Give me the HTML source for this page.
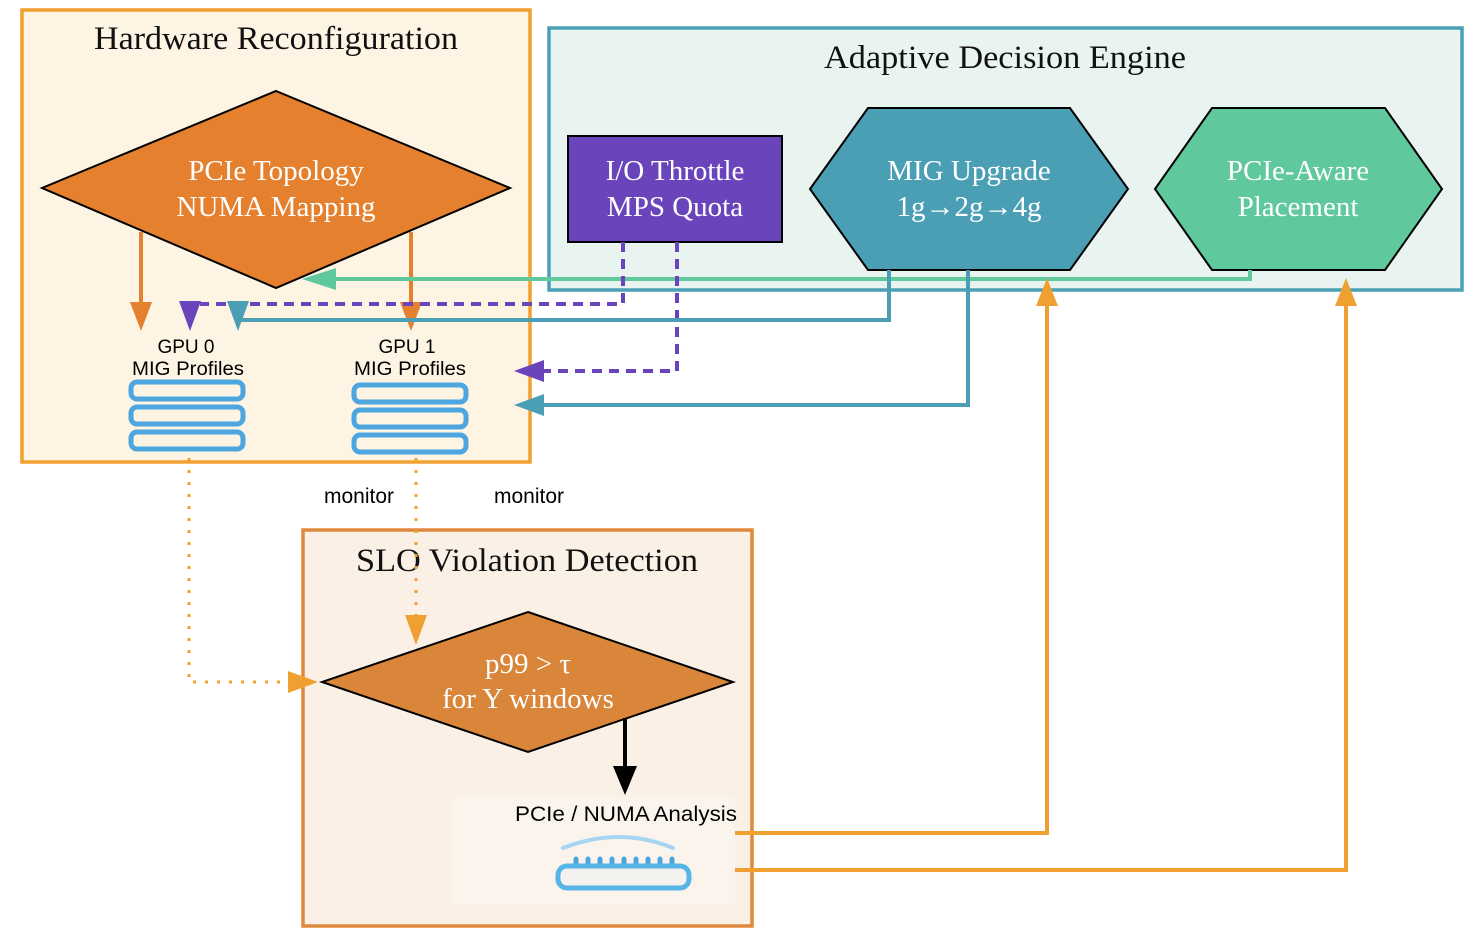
<!DOCTYPE html>
<html><head><meta charset="utf-8"><style>html,body{margin:0;padding:0;background:#fff}svg{display:block}</style></head><body>
<svg width="1482" height="938" viewBox="0 0 1482 938" xmlns="http://www.w3.org/2000/svg">
<rect x="22" y="10" width="508" height="452" fill="#fdf4e3" stroke="#f0a030" stroke-width="3.5"/>
<rect x="549" y="28" width="913" height="262" fill="#e9f4f1" stroke="#4aa0b5" stroke-width="3.5"/>
<rect x="303" y="530" width="449" height="396" fill="#faf0e6" stroke="#e0883a" stroke-width="3.5"/>
<rect x="452" y="797" width="283" height="108" fill="#fbf4ed"/>
<g font-family="Liberation Serif, serif" font-size="33" fill="#111" text-anchor="middle">
<text x="276" y="49" textLength="364" lengthAdjust="spacingAndGlyphs">Hardware Reconfiguration</text>
<text x="1005" y="68" textLength="362" lengthAdjust="spacingAndGlyphs">Adaptive Decision Engine</text>
<text x="527" y="571" textLength="342" lengthAdjust="spacingAndGlyphs">SLO Violation Detection</text>
</g>
<polygon points="276,91 510,188 276,288 42,188" fill="#e5812e" stroke="#000" stroke-width="2"/>
<rect x="568" y="136" width="214" height="106" fill="#6a44bb" stroke="#000" stroke-width="2"/>
<polygon points="810,189 868,108 1070,108 1128,189 1070,270 868,270" fill="#4b9fb5" stroke="#000" stroke-width="2"/>
<polygon points="1155,189 1212,108 1385,108 1442,189 1385,270 1212,270" fill="#5fc89c" stroke="#000" stroke-width="2"/>
<polygon points="528,612 733,682 528,752 322,682" fill="#d9853a" stroke="#000" stroke-width="2"/>
<g font-family="Liberation Serif, serif" font-size="29" fill="#fff" text-anchor="middle">
<text x="276" y="180">PCIe Topology</text><text x="276" y="216">NUMA Mapping</text>
<text x="675" y="180">I/O Throttle</text><text x="675" y="216">MPS Quota</text>
<text x="969" y="180">MIG Upgrade</text><text x="969" y="216">1g→2g→4g</text>
<text x="1298" y="180">PCIe-Aware</text><text x="1298" y="216">Placement</text>
<text x="528" y="673">p99 &gt; τ</text><text x="528" y="708">for Y windows</text>
</g>
<g stroke="#e5812e" stroke-width="4" fill="none"><line x1="141" y1="232" x2="141" y2="305"/><line x1="411" y1="232" x2="411" y2="305"/></g>
<polygon points="130,302 152,302 141,331" fill="#e5812e"/><polygon points="400,302 422,302 411,331" fill="#e5812e"/>
<polyline points="1250,270 1250,279 330,279" fill="none" stroke="#5fc89c" stroke-width="4"/>
<polygon points="302,279 336,268 336,290" fill="#5fc89c"/>
<polyline points="623,242 623,304 200,304" fill="none" stroke="#6a44bb" stroke-width="4" stroke-dasharray="10,7"/>
<polygon points="179,301 201,301 190,331" fill="#6a44bb"/>
<polyline points="677,242 677,371 540,371" fill="none" stroke="#6a44bb" stroke-width="4" stroke-dasharray="10,7"/>
<polygon points="514,371 544,360 544,382" fill="#6a44bb"/>
<polyline points="889,270 889,320 238,320 238,310" fill="none" stroke="#4b9fb5" stroke-width="4"/>
<polygon points="227,301 249,301 238,331" fill="#4b9fb5"/>
<polyline points="968,270 968,405 540,405" fill="none" stroke="#4b9fb5" stroke-width="4"/>
<polygon points="514,405 544,394 544,416" fill="#4b9fb5"/>
<g font-family="Liberation Sans, sans-serif" font-size="19" fill="#000" text-anchor="middle">
<text x="186" y="353">GPU 0</text><text x="188" y="375" textLength="112" lengthAdjust="spacingAndGlyphs">MIG Profiles</text>
<text x="407" y="353">GPU 1</text><text x="410" y="375" textLength="112" lengthAdjust="spacingAndGlyphs">MIG Profiles</text>
</g>
<g fill="none" stroke="#4da6e0" stroke-width="5">
<rect x="131" y="382" width="112" height="17" rx="6"/><rect x="131" y="407" width="112" height="17" rx="6"/><rect x="131" y="432" width="112" height="17" rx="6"/>
<rect x="354" y="385" width="112" height="17" rx="6"/><rect x="354" y="410" width="112" height="17" rx="6"/><rect x="354" y="435" width="112" height="17" rx="6"/>
</g>
<polyline points="189,458 189,682 292,682" fill="none" stroke="#f0a030" stroke-width="3" stroke-dasharray="3,9"/>
<polygon points="318,682 288,671 288,693" fill="#f0a030"/>
<line x1="416" y1="458" x2="416" y2="618" stroke="#f0a030" stroke-width="3" stroke-dasharray="3,9"/>
<polygon points="405,615 427,615 416,645" fill="#f0a030"/>
<g font-family="Liberation Sans, sans-serif" font-size="21" fill="#000" text-anchor="middle">
<text x="359" y="503">monitor</text><text x="529" y="503">monitor</text>
</g>
<line x1="625" y1="718" x2="625" y2="770" stroke="#000" stroke-width="4"/>
<polygon points="613,766 637,766 625,795" fill="#000"/>
<text x="626" y="821" font-family="Liberation Sans, sans-serif" font-size="21" fill="#000" text-anchor="middle" textLength="222" lengthAdjust="spacingAndGlyphs">PCIe / NUMA  Analysis</text>
<path d="M563,848 Q620,826 673,848" fill="none" stroke="#a6d6f2" stroke-width="4" stroke-linecap="round"/>
<g stroke="#4da6e0" stroke-width="5" stroke-linecap="round"><line x1="576" y1="859" x2="576" y2="865"/><line x1="588" y1="859" x2="588" y2="865"/><line x1="600" y1="859" x2="600" y2="865"/><line x1="612" y1="859" x2="612" y2="865"/><line x1="624" y1="859" x2="624" y2="865"/><line x1="636" y1="859" x2="636" y2="865"/><line x1="648" y1="859" x2="648" y2="865"/><line x1="660" y1="859" x2="660" y2="865"/><line x1="672" y1="859" x2="672" y2="865"/></g>
<rect x="558" y="866" width="131" height="22" rx="9" fill="#f4f2ee" stroke="#56b4e6" stroke-width="5"/>
<polyline points="735,833 1047,833 1047,300" fill="none" stroke="#f0a030" stroke-width="4"/>
<polygon points="1036,306 1058,306 1047,278" fill="#f0a030"/>
<polyline points="735,870 1346,870 1346,300" fill="none" stroke="#f0a030" stroke-width="4"/>
<polygon points="1335,306 1357,306 1346,278" fill="#f0a030"/>
</svg>
</body></html>
